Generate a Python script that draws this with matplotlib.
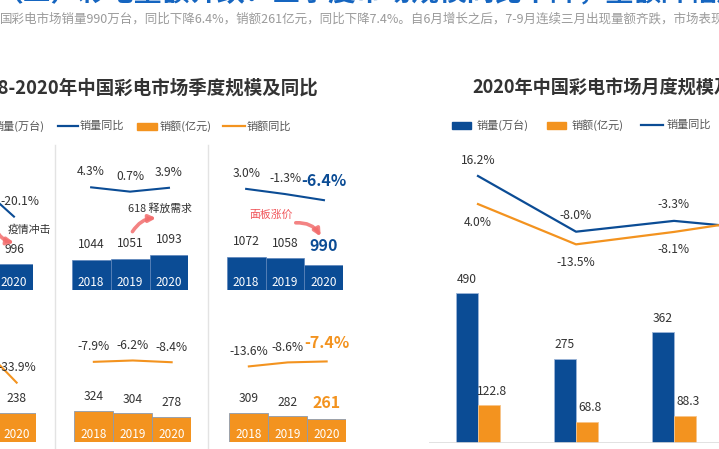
import matplotlib
matplotlib.use('Agg')
import matplotlib.pyplot as plt
from matplotlib.patches import Rectangle, FancyArrowPatch
from matplotlib.lines import Line2D

plt.rcParams['font.family'] = ['Noto Sans CJK SC', 'DejaVu Sans']

BLUE = '#0b4c95'
ORANGE = '#f3931f'
GREY = '#555555'
DARK = '#333333'
RED = '#f0555a'

# ---- data ----
years = ['2018', '2019', '2020']
# quarterly panels: Q1, Q2, Q3 (Q1 partly outside the picture)
q_sales = [[1141, 1246, 996], [1044, 1051, 1093], [1072, 1058, 990]]
q_sales_yoy = [[2.5, 9.2, -20.1], [4.3, 0.7, 3.9], [3.0, -1.3, -6.4]]
q_amount = [[309, 360, 238], [324, 304, 278], [309, 282, 261]]
q_amount_yoy = [[-5.0, 16.4, -33.9], [-7.9, -6.2, -8.4], [-13.6, -8.6, -7.4]]

# monthly 2020 (last month outside the picture)
m_sales = [490, 275, 362, 340]
m_amount = [122.8, 68.8, 88.3, 90.0]
m_sales_yoy = [16.2, -8.0, -3.3, -7.3]
m_amount_yoy = [4.0, -13.5, -8.1, -1.7]

W, H = 719, 449
fig = plt.figure(figsize=(W / 100, H / 100), dpi=100)
fig.patch.set_facecolor('white')
PT = 0.72  # px -> points


def fx(x):
    return x / W


def fy(y):
    return 1 - y / H


def ax_px(x0, y0, x1, y1):
    a = fig.add_axes([fx(x0), fy(y1), (x1 - x0) / W, (y1 - y0) / H])
    a.set_axis_off()
    return a


def ftext(x, y, s, **kw):
    fig.text(fx(x), fy(y), s, va='center', **kw)


# ---- headings ----
ftext(-4, -8, '（二）彩电量额齐跌：三季度市场规模同比下降，量额降幅双双扩大',
      ha='left', fontsize=20, fontweight='bold', color='#1565c0')
ftext(0, 19, '国彩电市场销量990万台，同比下降6.4%，销额261亿元，同比下降7.4%。'
      '自6月增长之后，7-9月连续三月出现量额齐跌，市场表现低迷。',
      ha='left', fontsize=9.0, color='#9a9a9a')
ftext(318, 88, '2018-2020年中国彩电市场季度规模及同比', ha='right',
      fontsize=13.3, fontweight='bold', color=DARK)
ftext(472, 88, '2020年中国彩电市场月度规模及同比', ha='left',
      fontsize=13.1, fontweight='bold', color=DARK)

# ---- legends ----
def leg_patch(x0, x1, y, c):
    fig.add_artist(Rectangle((fx(x0), fy(y + 3.5)), (x1 - x0) / W, 7 / H,
                             transform=fig.transFigure, color=c))


def leg_line(x0, x1, y, c):
    fig.add_artist(Line2D([fx(x0), fx(x1)], [fy(y), fy(y)], color=c, lw=1.6,
                          transform=fig.transFigure))


leg_patch(-30, -10, 126, BLUE)
ftext(45, 126, '销量(万台)', ha='right', fontsize=8, color=GREY)
leg_line(58, 78, 126, BLUE)
ftext(80, 126, '销量同比', ha='left', fontsize=8, color=GREY)
leg_patch(137, 157, 126, ORANGE)
ftext(160, 126, '销额(亿元)', ha='left', fontsize=8, color=GREY)
leg_line(223, 245, 126, ORANGE)
ftext(247, 126, '销额同比', ha='left', fontsize=8, color=GREY)

leg_patch(452, 471, 125, BLUE)
ftext(477, 125, '销量(万台)', ha='left', fontsize=8, color=GREY)
leg_patch(547, 566, 125, ORANGE)
ftext(572, 125, '销额(亿元)', ha='left', fontsize=8, color=GREY)
leg_line(641, 663, 125, BLUE)
ftext(667, 125, '销量同比', ha='left', fontsize=8, color=GREY)

# ---- separators ----
for xs in (55, 208):
    fig.add_artist(Line2D([fx(xs), fx(xs)], [fy(145), fy(449)], color='#e3e3e3',
                          lw=1, transform=fig.transFigure))

# ---- quarterly panels ----
xs3 = range(3)
amount_base = [20, 90, 90]
for qi in range(3):
    left = -83.3 + 155 * qi
    hl = qi == 2

    # sales row
    ax = ax_px(left, 150, left + 116.7, 290)
    ax.bar(xs3, q_sales[qi], width=1.0, color=BLUE, edgecolor='#5d85bb', lw=0.5)
    ax.set_xlim(-0.5, 2.5)
    ax.set_ylim(740, 2140)
    for i, v in enumerate(q_sales[qi]):
        big = hl and i == 2
        ax.annotate(str(v), (i, v), xytext=(0, (19 if big else 15) * PT),
                    textcoords='offset points', ha='center', va='center',
                    fontsize=11.5 if big else 8.7, color=BLUE if big else DARK,
                    fontweight='bold' if big else 'normal')
        ax.annotate(years[i], (i, 740), xytext=(0, 8 * PT), textcoords='offset points',
                    ha='center', va='center', fontsize=8.5, color='white')
    ax2 = ax.twinx()
    ax2.set_axis_off()
    ax2.set_ylim(-81.25, 35.4)
    ax2.plot(xs3, q_sales_yoy[qi], color=BLUE, lw=1.5)
    for i, v in enumerate(q_sales_yoy[qi]):
        big = hl and i == 2
        ax2.annotate(f'{v:.1f}%', (i, v), xytext=(6 * PT if qi == 0 else 0, (19 if big else 15.5) * PT),
                     textcoords='offset points', ha='center', va='center',
                     fontsize=11.5 if big else 8.7, color=BLUE if big else DARK,
                     fontweight='bold' if big else 'normal')

    # amount row
    lo = left + 2.7
    base = amount_base[qi]
    ax = ax_px(lo, 300, lo + 116.7, 442)
    ax.bar(xs3, q_amount[qi], width=1.0, color=ORANGE, edgecolor='#8c9bb0', lw=0.6)
    ax.set_xlim(-0.5, 2.5)
    ax.set_ylim(base, base + 1065)
    for i, v in enumerate(q_amount[qi]):
        big = hl and i == 2
        ax.annotate(str(v), (i, v), xytext=(0, (16 if big else 14) * PT),
                    textcoords='offset points', ha='center', va='center',
                    fontsize=11.5 if big else 8.7, color=ORANGE if big else DARK,
                    fontweight='bold' if big else 'normal')
        ax.annotate(years[i], (i, base), xytext=(0, 8 * PT), textcoords='offset points',
                    ha='center', va='center', fontsize=8.5, color='white')
    ax2 = ax.twinx()
    ax2.set_axis_off()
    ax2.set_ylim(-108.1, 69.4)
    ax2.plot(xs3, q_amount_yoy[qi], color=ORANGE, lw=1.5)
    for i, v in enumerate(q_amount_yoy[qi]):
        big = hl and i == 2
        ax2.annotate(f'{v:.1f}%', (i, v), xytext=(0, (18 if big else 15) * PT),
                     textcoords='offset points', ha='center', va='center',
                     fontsize=11.5 if big else 8.7, color=ORANGE if big else DARK,
                     fontweight='bold' if big else 'normal')

# ---- callouts ----
ftext(29, 229, '疫情冲击', ha='center', fontsize=7.8, color=DARK)
ftext(160, 209, '618 释放需求', ha='center', fontsize=7.8, color=DARK)
ftext(271, 215, '面板涨价', ha='center', fontsize=7.8, color=RED)


def arrow(p0, p1, rad):
    fig.add_artist(FancyArrowPatch((fx(p0[0]), fy(p0[1])), (fx(p1[0]), fy(p1[1])),
                                   transform=fig.transFigure, arrowstyle='-|>',
                                   mutation_scale=10, lw=2.6, color='#f26d6d',
                                   alpha=0.85, connectionstyle=f'arc3,rad={rad}'))


arrow((-6, 226), (17, 243), 0.3)
arrow((131, 234), (159, 218), -0.3)
arrow((293, 223), (322, 239), -0.35)

# ---- monthly chart ----
axm = ax_px(429, 150, 821, 442.7)
mx = range(len(m_sales))
bw = 0.225
axm.bar([i - bw / 2 for i in mx], m_sales, width=bw, color=BLUE, edgecolor='#9db5d8', lw=0.6)
axm.bar([i + bw / 2 for i in mx], m_amount, width=bw, color=ORANGE, edgecolor='#f7c48a', lw=0.6)
axm.set_xlim(-0.5, 3.5)
axm.set_ylim(0, 960)
axm.axhline(0, color='#dddddd', lw=1.2)
for i in mx:
    axm.annotate(str(m_sales[i]), (i - bw / 2, m_sales[i]), xytext=(0, 14 * PT),
                 textcoords='offset points', ha='center', va='center', fontsize=8.7, color=DARK)
    axm.annotate(f'{m_amount[i]:.1f}', (i + bw / 2, m_amount[i]), xytext=(3 * PT, 14 * PT),
                 textcoords='offset points', ha='center', va='center', fontsize=8.7, color=DARK)
axl = axm.twinx()
axl.set_axis_off()
axl.set_ylim(-99.7, 27.5)
axl.plot(mx, m_sales_yoy, color=BLUE, lw=1.6)
axl.plot(mx, m_amount_yoy, color=ORANGE, lw=1.6)
for i in mx:
    axl.annotate(f'{m_sales_yoy[i]:.1f}%', (i, m_sales_yoy[i]), xytext=(0, 16 * PT),
                 textcoords='offset points', ha='center', va='center', fontsize=8.7, color=DARK)
    axl.annotate(f'{m_amount_yoy[i]:.1f}%', (i, m_amount_yoy[i]), xytext=(0, -18 * PT),
                 textcoords='offset points', ha='center', va='center', fontsize=8.7, color=DARK)

fig.savefig('out.png', dpi=100)
